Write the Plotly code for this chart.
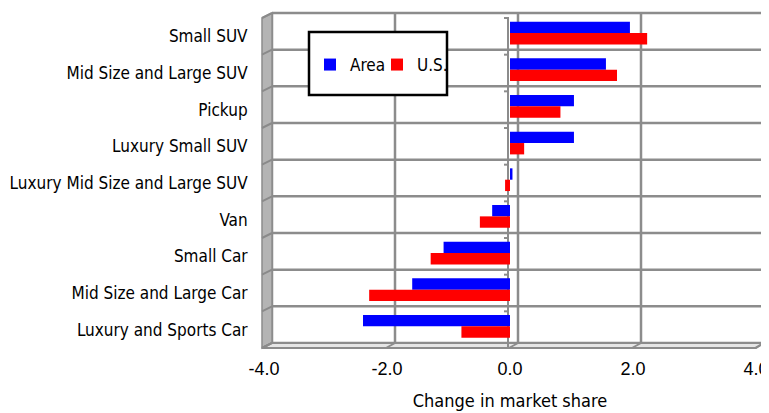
import plotly.graph_objects as go

categories = ["Small SUV", "Mid Size and Large SUV", "Pickup", "Luxury Small SUV",
              "Luxury Mid Size and Large SUV", "Van", "Small Car",
              "Mid Size and Large Car", "Luxury and Sports Car"]
area = [1.95, 1.56, 1.04, 1.04, 0.04, -0.29, -1.08, -1.59, -2.39]
us = [2.23, 1.74, 0.82, 0.23, -0.08, -0.49, -1.29, -2.29, -0.79]
x_ticks = [-4, -2, 0, 2, 4]
x_ticktext = ["-4.0", "-2.0", "0.0", "2.0", "4.0"]

# page body adds an 8px offset; design in window coordinates
OFF = 8
W, H = 769 - OFF, 413 - OFF
L, R, T, B = 264 - OFF, 13, 18 - OFF, 65
PW, PH = W - L - R, H - T - B

def px(x):
    return (x - OFF - L) / PW

def py(y):
    return (H - B - (y - OFF)) / PH

NARROW = "Liberation Sans Narrow, DejaVu Sans Condensed, sans-serif"
GRID = "#8c8c8c"

fig = go.Figure()
fig.add_trace(go.Bar(y=categories, x=area, orientation="h", name="Area",
                     marker=dict(color="#0000ff", line=dict(width=0)),
                     offset=0.09, width=0.31, legendwidth=22))
fig.add_trace(go.Bar(y=categories, x=us, orientation="h", name="U.S.",
                     marker=dict(color="#ff0000", line=dict(width=0)),
                     offset=-0.22, width=0.31))

shapes = []
n = len(categories)
row = 330 / n
# back wall grid
bx0, bx1, by0, by1 = 272, 764, 13, 343
for k in range(5):
    xx = bx0 + k * (bx1 - bx0) / 4
    shapes.append(dict(type="line", xref="paper", yref="paper", x0=px(xx), x1=px(xx),
                       y0=py(by0), y1=py(by1), line=dict(color=GRID, width=2.5), layer="below"))
for k in range(n + 1):
    yy = by0 + k * row
    shapes.append(dict(type="line", xref="paper", yref="paper", x0=px(bx0), x1=px(bx1),
                       y0=py(yy), y1=py(yy), line=dict(color=GRID, width=2.5), layer="below"))
# left wall
shapes.append(dict(type="path", xref="paper", yref="paper",
                   path=f"M {px(262)} {py(18)} L {px(272)} {py(13)} L {px(272)} {py(343)} L {px(262)} {py(348)} Z",
                   fillcolor="#b4b4b4", line=dict(color=GRID, width=1.5), layer="below"))
for k in range(n + 1):
    shapes.append(dict(type="line", xref="paper", yref="paper", x0=px(262), x1=px(272),
                       y0=py(18 + k * row), y1=py(13 + k * row), line=dict(color="#8a8a8a", width=2), layer="below"))
# floor
shapes.append(dict(type="path", xref="paper", yref="paper",
                   path=f"M {px(262)} {py(348)} L {px(272)} {py(343)} L {px(764)} {py(343)} L {px(756)} {py(348)} Z",
                   fillcolor="#e6e6e6", line=dict(color=GRID, width=2), layer="below"))
for k in range(5):
    xx = bx0 + k * (bx1 - bx0) / 4
    shapes.append(dict(type="line", xref="paper", yref="paper", x0=px(xx), x1=px(xx - 9),
                       y0=py(by1), y1=py(by1 + 5), line=dict(color=GRID, width=2), layer="below"))
# category axis line at zero
zx = 508
shapes.append(dict(type="line", xref="paper", yref="paper", x0=px(zx), x1=px(zx),
                   y0=py(17), y1=py(347), line=dict(color=GRID, width=2), layer="below"))
for k in range(n):
    shapes.append(dict(type="line", xref="paper", yref="paper", x0=px(zx - 4), x1=px(zx),
                       y0=py(18 + k * row), y1=py(18 + k * row), line=dict(color=GRID, width=2), layer="below"))
# legend box
shapes.append(dict(type="rect", xref="paper", yref="paper", x0=px(309), x1=px(447),
                   y0=py(32), y1=py(95), fillcolor="white", line=dict(color="black", width=2.5),
                   layer="below"))

fig.update_layout(
    width=W, height=H,
    margin=dict(l=L, r=R, t=T, b=B, autoexpand=False),
    paper_bgcolor="white", plot_bgcolor="rgba(0,0,0,0)",
    barmode="group",
    showlegend=True,
    legend=dict(orientation="h", x=px(310), y=py(47), xanchor="left", yanchor="top",
                bgcolor="rgba(0,0,0,0)", borderwidth=0,
                font=dict(family=NARROW, size=17, color="black"),
                itemwidth=30, traceorder="normal"),
    shapes=shapes,
    xaxis=dict(range=[-4, 4], tickvals=x_ticks, ticktext=x_ticktext, showgrid=False,
               zeroline=False, showline=False, ticks="outside", ticklen=4,
               tickcolor="rgba(0,0,0,0)", automargin=False,
               tickfont=dict(family="Liberation Sans, Arial, sans-serif", size=18, color="black"),
               title=dict(text="Change in market share", standoff=16,
                          font=dict(family=NARROW, size=18, color="black"))),
    yaxis=dict(type="category", categoryorder="array", categoryarray=categories[::-1],
               range=[-0.5, n - 0.5], showgrid=False, zeroline=False, showline=False,
               ticks="outside", ticklen=12, tickcolor="rgba(0,0,0,0)", automargin=False,
               tickfont=dict(family=NARROW, size=17, color="black")),
)

fig.write_html("out.html")
